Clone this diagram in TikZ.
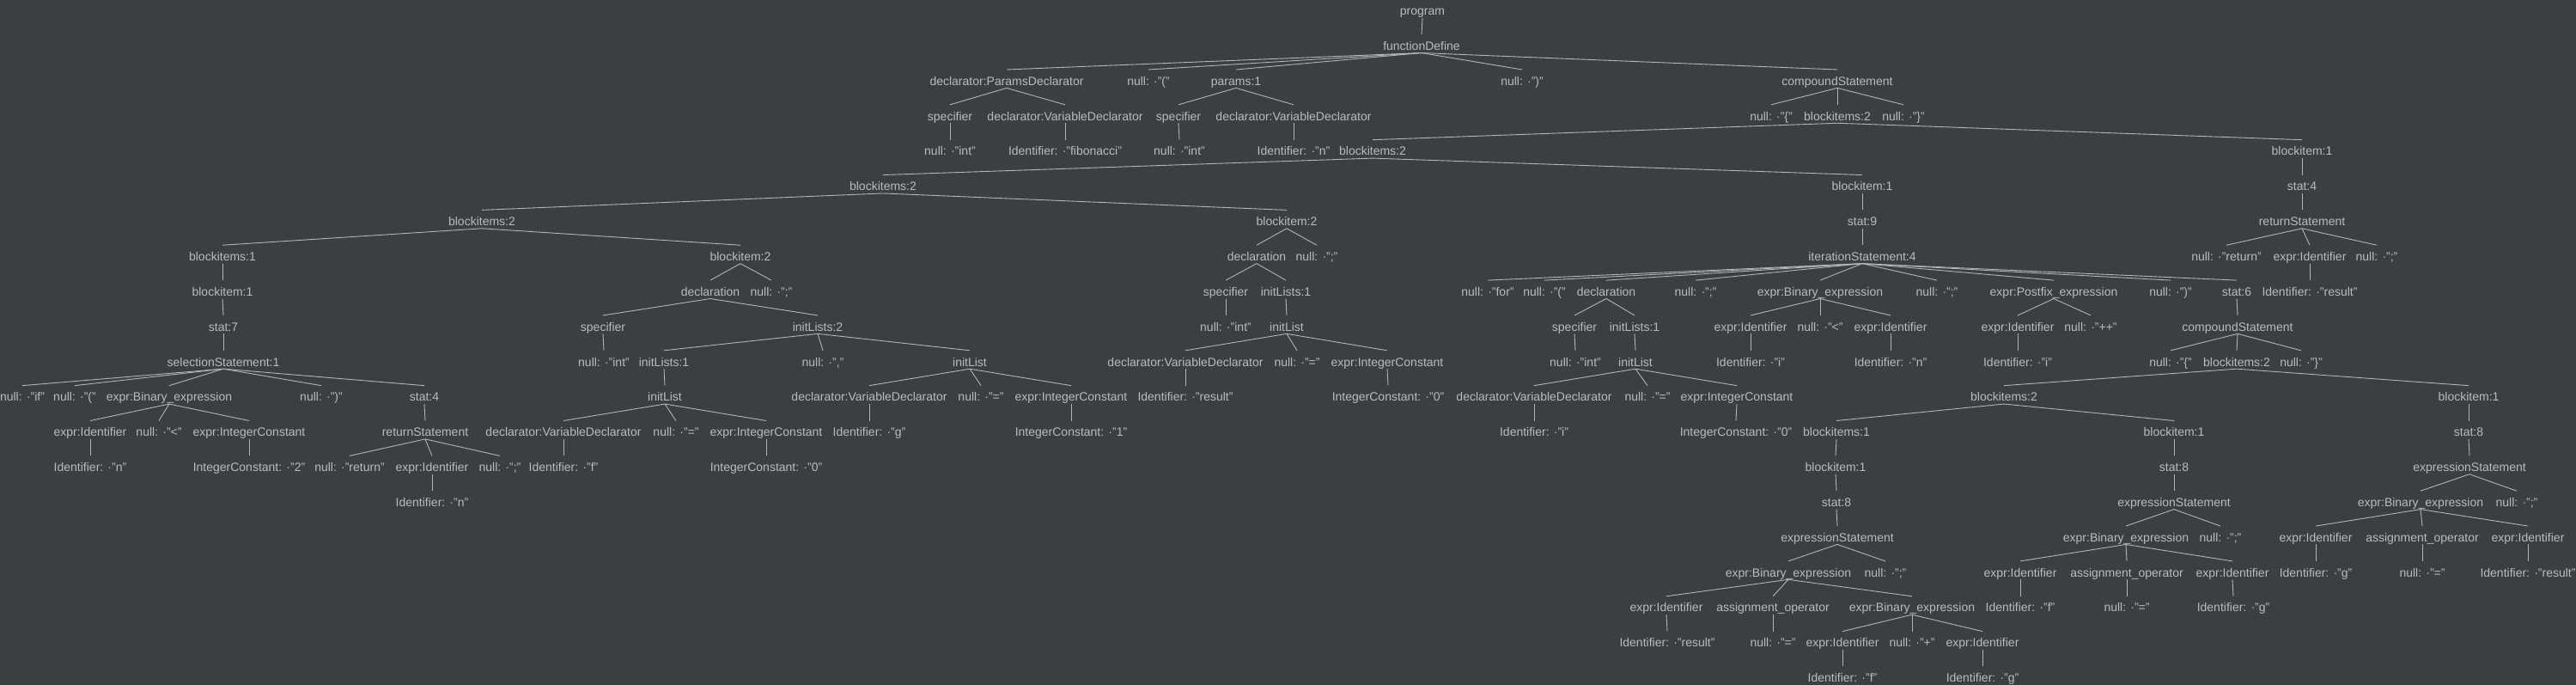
\documentclass[tikz,border=0pt]{standalone}
\usepackage{fontspec}
\setmainfont{Liberation Sans}
\definecolor{BgClr}{HTML}{3C3F41}
\definecolor{TextClr}{HTML}{BBBBBB}
\definecolor{LineClr}{HTML}{B4B4B4}
\tikzset{
  tn/.style={text=TextClr,font=\fontsize{14}{16}\selectfont,inner sep=0pt,
    text height=18pt,text depth=3pt,anchor=base},
  edge/.style={draw=LineClr,line width=0.9pt}
}

\begin{document}
\begin{tikzpicture}[x=1pt,y=-40.85pt]
\fill[BgClr] (0,-0.4284) rectangle (2999,19.082);
\useasboundingbox (0,-0.4284) rectangle (2999,19.082);

% row 0 - 4
\node[tn] (r0a) at (1656,0) {program};
\node[tn] (r1a) at (1655,1) {functionDefine};

\node[tn] (r2a) at (1172,2) {declarator:ParamsDeclarator};
\node[tn] (r2b) at (1337,2) {null: ·"("};
\node[tn] (r2c) at (1439,2) {params:1};
\node[tn] (r2d) at (1772,2) {null: ·")"};
\node[tn] (r2e) at (2139,2) {compoundStatement};

\node[tn] (r3a) at (1106,3) {specifier};
\node[tn] (r3b) at (1240,3) {declarator:VariableDeclarator};
\node[tn] (r3c) at (1372,3) {specifier};
\node[tn] (r3d) at (1506,3) {declarator:VariableDeclarator};
\node[tn] (r3e) at (2062,3) {null: ·"\{"};
\node[tn] (r3f) at (2139,3) {blockitems:2};
\node[tn] (r3g) at (2216,3) {null: ·"\}"};

\node[tn] (r4a) at (1106,4) {null: ·"int"};
\node[tn] (r4b) at (1240,4) {Identifier: ·"fibonacci"};
\node[tn] (r4c) at (1373,4) {null: ·"int"};
\node[tn] (r4d) at (1506,4) {Identifier: ·"n"};
\node[tn] (r4e) at (1598,4) {blockitems:2};
\node[tn] (r4f) at (2680,4) {blockitem:1};

% row 5 - 9
\node[tn] (r5a) at (1028,5) {blockitems:2};
\node[tn] (r5b) at (2168,5) {blockitem:1};
\node[tn] (r5c) at (2680,5) {stat:4};

\node[tn] (r6a) at (561,6) {blockitems:2};
\node[tn] (r6b) at (1498,6) {blockitem:2};
\node[tn] (r6c) at (2168,6) {stat:9};
\node[tn] (r6d) at (2680,6) {returnStatement};

\node[tn] (r7a) at (259,7) {blockitems:1};
\node[tn] (r7b) at (862,7) {blockitem:2};
\node[tn] (r7c) at (1463,7) {declaration};
\node[tn] (r7d) at (1533,7) {null: ·";"};
\node[tn] (r7e) at (2168,7) {iterationStatement:4};
\node[tn] (r7f) at (2592,7) {null: ·"return"};
\node[tn] (r7g) at (2689,7) {expr:Identifier};
\node[tn] (r7h) at (2767,7) {null: ·";"};

\node[tn] (r8a) at (259,8) {blockitem:1};
\node[tn] (r8b) at (827,8) {declaration};
\node[tn] (r8c) at (898,8) {null: ·";"};
\node[tn] (r8d) at (1427,8) {specifier};
\node[tn] (r8e) at (1497,8) {initLists:1};
\node[tn] (r8f) at (1732,8) {null: ·"for"};
\node[tn] (r8g) at (1798,8) {null: ·"("};
\node[tn] (r8h) at (1870,8) {declaration};
\node[tn] (r8i) at (1974,8) {null: ·";"};
\node[tn] (r8j) at (2119,8) {expr:Binary\_expression};
\node[tn] (r8k) at (2255,8) {null: ·";"};
\node[tn] (r8l) at (2391,8) {expr:Postfix\_expression};
\node[tn] (r8m) at (2527,8) {null: ·")"};
\node[tn] (r8n) at (2604,8) {stat:6};
\node[tn] (r8o) at (2689,8) {Identifier: ·"result"};

\node[tn] (r9a) at (260,9) {stat:7};
\node[tn] (r9b) at (702,9) {specifier};
\node[tn] (r9c) at (952,9) {initLists:2};
\node[tn] (r9d) at (1427,9) {null: ·"int"};
\node[tn] (r9e) at (1498,9) {initList};
\node[tn] (r9f) at (1833,9) {specifier};
\node[tn] (r9g) at (1903,9) {initLists:1};
\node[tn] (r9h) at (2038,9) {expr:Identifier};
\node[tn] (r9i) at (2119,9) {null: ·"<"};
\node[tn] (r9j) at (2201,9) {expr:Identifier};
\node[tn] (r9k) at (2349,9) {expr:Identifier};
\node[tn] (r9l) at (2434,9) {null: ·"++"};
\node[tn] (r9m) at (2605,9) {compoundStatement};

% row 10 - 14
\node[tn] (r10a) at (260,10) {selectionStatement:1};
\node[tn] (r10b) at (703,10) {null: ·"int"};
\node[tn] (r10c) at (773,10) {initLists:1};
\node[tn] (r10d) at (958,10) {null: ·","};
\node[tn] (r10e) at (1129,10) {initList};
\node[tn] (r10f) at (1380,10) {declarator:VariableDeclarator};
\node[tn] (r10g) at (1510,10) {null: ·"="};
\node[tn] (r10h) at (1615,10) {expr:IntegerConstant};
\node[tn] (r10i) at (1834,10) {null: ·"int"};
\node[tn] (r10j) at (1904,10) {initList};
\node[tn] (r10k) at (2038,10) {Identifier: ·"i"};
\node[tn] (r10l) at (2201,10) {Identifier: ·"n"};
\node[tn] (r10m) at (2349,10) {Identifier: ·"i"};
\node[tn] (r10n) at (2527,10) {null: ·"\{"};
\node[tn] (r10o) at (2604,10) {blockitems:2};
\node[tn] (r10p) at (2679,10) {null: ·"\}"};

\node[tn] (r11a) at (26,11) {null: ·"if"};
\node[tn] (r11b) at (87,11) {null: ·"("};
\node[tn] (r11c) at (197,11) {expr:Binary\_expression};
\node[tn] (r11d) at (374,11) {null: ·")"};
\node[tn] (r11e) at (494,11) {stat:4};
\node[tn] (r11f) at (774,11) {initList};
\node[tn] (r11g) at (1012,11) {declarator:VariableDeclarator};
\node[tn] (r11h) at (1142,11) {null: ·"="};
\node[tn] (r11i) at (1247,11) {expr:IntegerConstant};
\node[tn] (r11j) at (1380,11) {Identifier: ·"result"};
\node[tn] (r11k) at (1616,11) {IntegerConstant: ·"0"};
\node[tn] (r11l) at (1786,11) {declarator:VariableDeclarator};
\node[tn] (r11m) at (1918,11) {null: ·"="};
\node[tn] (r11n) at (2022,11) {expr:IntegerConstant};
\node[tn] (r11o) at (2333,11) {blockitems:2};
\node[tn] (r11p) at (2874,11) {blockitem:1};

\node[tn] (r12a) at (105,12) {expr:Identifier};
\node[tn] (r12b) at (185,12) {null: ·"<"};
\node[tn] (r12c) at (290,12) {expr:IntegerConstant};
\node[tn] (r12d) at (495,12) {returnStatement};
\node[tn] (r12e) at (656,12) {declarator:VariableDeclarator};
\node[tn] (r12f) at (787,12) {null: ·"="};
\node[tn] (r12g) at (892,12) {expr:IntegerConstant};
\node[tn] (r12h) at (1012,12) {Identifier: ·"g"};
\node[tn] (r12i) at (1247,12) {IntegerConstant: ·"1"};
\node[tn] (r12j) at (1786,12) {Identifier: ·"i"};
\node[tn] (r12k) at (2021,12) {IntegerConstant: ·"0"};
\node[tn] (r12l) at (2138,12) {blockitems:1};
\node[tn] (r12m) at (2531,12) {blockitem:1};
\node[tn] (r12n) at (2874,12) {stat:8};

\node[tn] (r13a) at (105,13) {Identifier: ·"n"};
\node[tn] (r13b) at (290,13) {IntegerConstant: ·"2"};
\node[tn] (r13c) at (407,13) {null: ·"return"};
\node[tn] (r13d) at (503,13) {expr:Identifier};
\node[tn] (r13e) at (582,13) {null: ·";"};
\node[tn] (r13f) at (656,13) {Identifier: ·"f"};
\node[tn] (r13g) at (892,13) {IntegerConstant: ·"0"};
\node[tn] (r13h) at (2137,13) {blockitem:1};
\node[tn] (r13i) at (2531,13) {stat:8};
\node[tn] (r13j) at (2875,13) {expressionStatement};

\node[tn] (r14a) at (503,14) {Identifier: ·"n"};
\node[tn] (r14b) at (2138,14) {stat:8};
\node[tn] (r14c) at (2531,14) {expressionStatement};
\node[tn] (r14d) at (2818,14) {expr:Binary\_expression};
\node[tn] (r14e) at (2930,14) {null: ·";"};

% row 15 - 19
\node[tn] (r15a) at (2139,15) {expressionStatement};
\node[tn] (r15b) at (2475,15) {expr:Binary\_expression};
\node[tn] (r15c) at (2585,15) {null: ·";"};
\node[tn] (r15d) at (2696,15) {expr:Identifier};
\node[tn] (r15e) at (2820,15) {assignment\_operator};
\node[tn] (r15f) at (2943,15) {expr:Identifier};

\node[tn] (r16a) at (2082,16) {expr:Binary\_expression};
\node[tn] (r16b) at (2195,16) {null: ·";"};
\node[tn] (r16c) at (2352,16) {expr:Identifier};
\node[tn] (r16d) at (2476,16) {assignment\_operator};
\node[tn] (r16e) at (2599,16) {expr:Identifier};
\node[tn] (r16f) at (2696,16) {Identifier: ·"g"};
\node[tn] (r16g) at (2820,16) {null: ·"="};
\node[tn] (r16h) at (2943,16) {Identifier: ·"result"};

\node[tn] (r17a) at (1940,17) {expr:Identifier};
\node[tn] (r17b) at (2064,17) {assignment\_operator};
\node[tn] (r17c) at (2226,17) {expr:Binary\_expression};
\node[tn] (r17d) at (2352,17) {Identifier: ·"f"};
\node[tn] (r17e) at (2476,17) {null: ·"="};
\node[tn] (r17f) at (2600,17) {Identifier: ·"g"};

\node[tn] (r18a) at (1941,18) {Identifier: ·"result"};
\node[tn] (r18b) at (2064,18) {null: ·"="};
\node[tn] (r18c) at (2145,18) {expr:Identifier};
\node[tn] (r18d) at (2226,18) {null: ·"+"};
\node[tn] (r18e) at (2308,18) {expr:Identifier};

\node[tn] (r19a) at (2145,19) {Identifier: ·"f"};
\node[tn] (r19b) at (2308,19) {Identifier: ·"g"};

% edges, parent/child
\foreach \p/\c in {r0a/r1a,
  r1a/r2a,r1a/r2b,r1a/r2c,r1a/r2d,r1a/r2e,
  r2a/r3a,r2a/r3b,r2c/r3c,r2c/r3d,r2e/r3e,r2e/r3f,r2e/r3g,
  r3a/r4a,r3b/r4b,r3c/r4c,r3d/r4d,r3f/r4e,r3f/r4f,
  r4e/r5a,r4e/r5b,r4f/r5c,
  r5a/r6a,r5a/r6b,r5b/r6c,r5c/r6d,
  r6a/r7a,r6a/r7b,r6b/r7c,r6b/r7d,r6c/r7e,r6d/r7f,r6d/r7g,r6d/r7h,
  r7a/r8a,r7b/r8b,r7b/r8c,r7c/r8d,r7c/r8e,r7e/r8f,r7e/r8g,r7e/r8h,r7e/r8i,
  r7e/r8j,r7e/r8k,r7e/r8l,r7e/r8m,r7e/r8n,r7g/r8o,
  r8a/r9a,r8b/r9b,r8b/r9c,r8d/r9d,r8e/r9e,r8h/r9f,r8h/r9g,r8j/r9h,r8j/r9i,
  r8j/r9j,r8l/r9k,r8l/r9l,r8n/r9m,
  r9a/r10a,r9b/r10b,r9c/r10c,r9c/r10d,r9c/r10e,r9e/r10f,r9e/r10g,r9e/r10h,
  r9f/r10i,r9g/r10j,r9h/r10k,r9j/r10l,r9k/r10m,r9m/r10n,r9m/r10o,r9m/r10p,
  r10a/r11a,r10a/r11b,r10a/r11c,r10a/r11d,r10a/r11e,r10c/r11f,r10e/r11g,
  r10e/r11h,r10e/r11i,r10f/r11j,r10h/r11k,r10j/r11l,r10j/r11m,r10j/r11n,
  r10o/r11o,r10o/r11p,
  r11c/r12a,r11c/r12b,r11c/r12c,r11e/r12d,r11f/r12e,r11f/r12f,r11f/r12g,
  r11g/r12h,r11i/r12i,r11l/r12j,r11n/r12k,r11o/r12l,r11o/r12m,r11p/r12n,
  r12a/r13a,r12c/r13b,r12d/r13c,r12d/r13d,r12d/r13e,r12e/r13f,r12g/r13g,
  r12l/r13h,r12m/r13i,r12n/r13j,
  r13d/r14a,r13h/r14b,r13i/r14c,r13j/r14d,r13j/r14e,
  r14b/r15a,r14c/r15b,r14c/r15c,r14d/r15d,r14d/r15e,r14d/r15f,
  r15a/r16a,r15a/r16b,r15b/r16c,r15b/r16d,r15b/r16e,r15d/r16f,r15e/r16g,r15f/r16h,
  r16a/r17a,r16a/r17b,r16a/r17c,r16c/r17d,r16d/r17e,r16e/r17f,
  r17a/r18a,r17b/r18b,r17c/r18c,r17c/r18d,r17c/r18e,
  r18c/r19a,r18e/r19b}
  \draw[edge] (\p.south) -- (\c.north);

\end{tikzpicture}
\end{document}
